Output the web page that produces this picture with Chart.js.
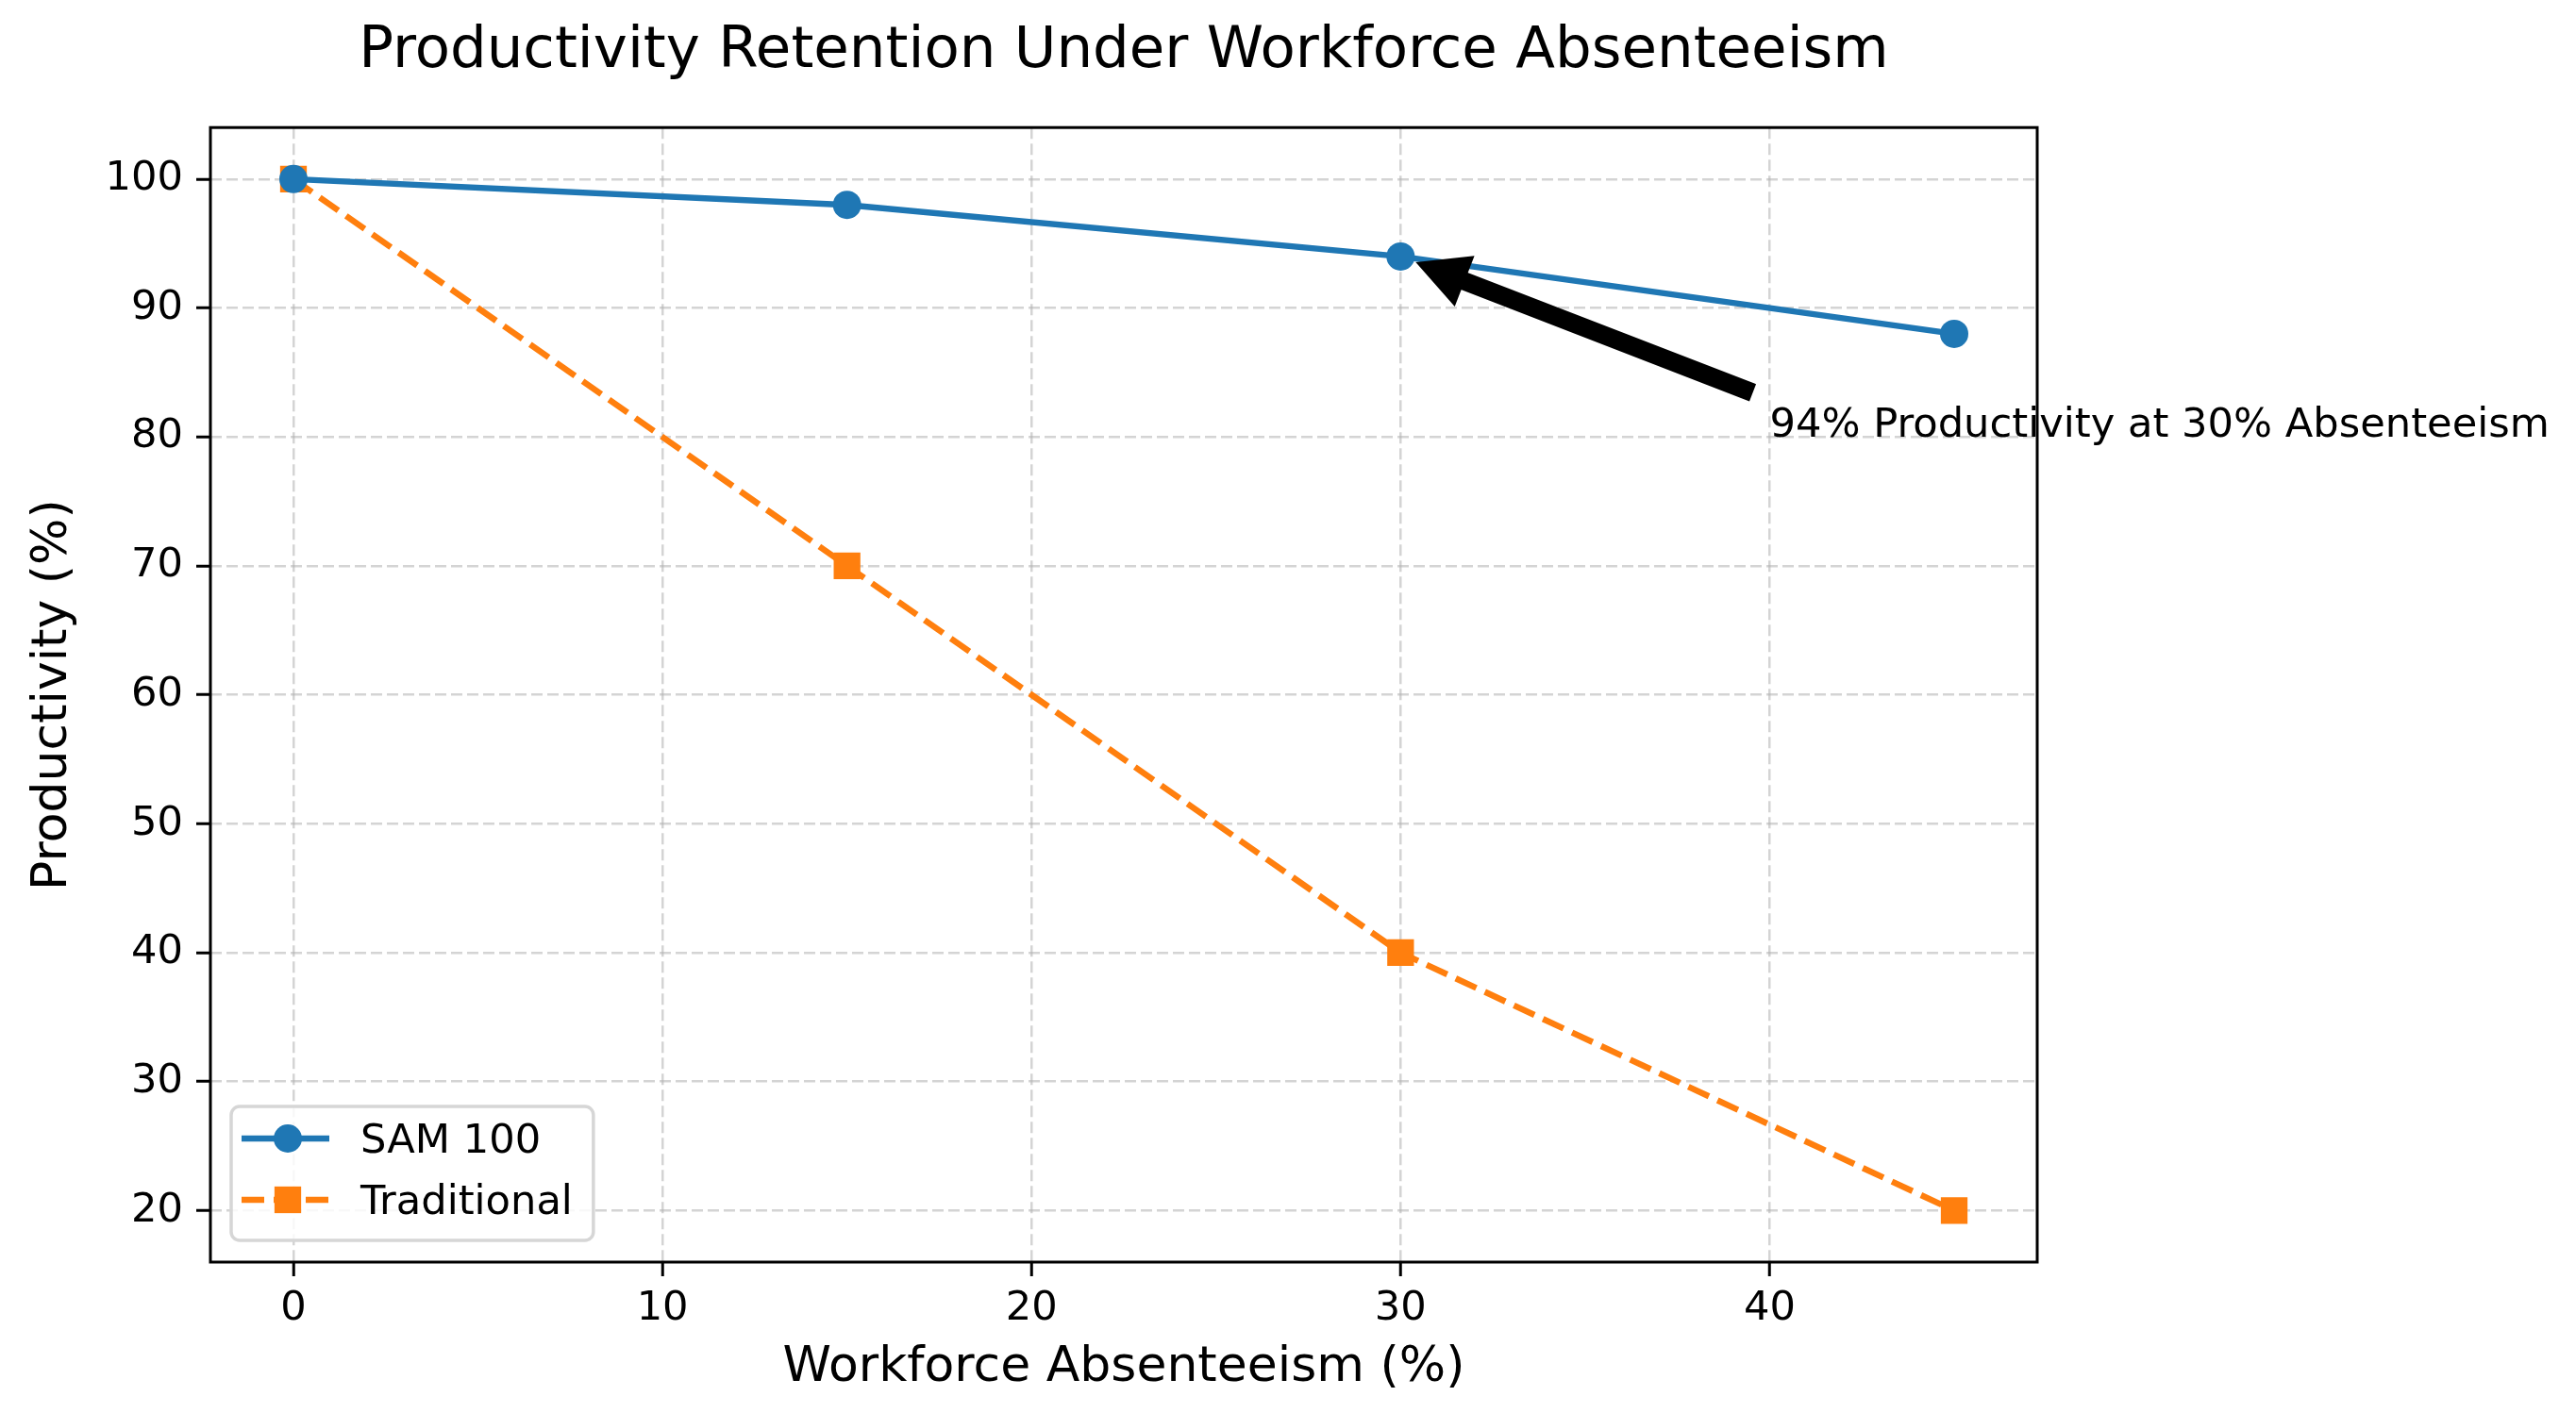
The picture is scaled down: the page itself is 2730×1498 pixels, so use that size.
<!DOCTYPE html>
<html><head><meta charset="utf-8">
<script src="https://cdn.jsdelivr.net/npm/chart.js@4.4.1/dist/chart.umd.min.js"></script>
<style>html,body{margin:0;padding:0;background:#fff}canvas{display:block}</style>
</head><body>
<canvas id="c" width="2730" height="1498"></canvas>
<script>
// ---- data ----
const chartTitle = 'Productivity Retention Under Workforce Absenteeism';
const xAxisTitle = 'Workforce Absenteeism (%)';
const yAxisTitle = 'Productivity (%)';
const absenteeism = [0, 15, 30, 45];
const sam100 = [100, 98, 94, 88];
const traditional = [100, 70, 40, 20];
const seriesNames = ['SAM 100', 'Traditional'];
const xTickValues = [0, 10, 20, 30, 40];
const yTickValues = [20, 30, 40, 50, 60, 70, 80, 90, 100];
const annotationText = '94% Productivity at 30% Absenteeism';
const annotationTarget = [30, 94];
const annotationTextPos = [40, 80];

// ---- style ----
const FONT = '"DejaVu Sans", "Liberation Sans", sans-serif';
const FS = 43.2;
const BLUE = '#1f77b4', ORANGE = '#ff7f0e';

function margins(vals) {
  const mn = Math.min(...vals), mx = Math.max(...vals), r = mx - mn;
  return [mn - 0.05 * r, mx + 0.05 * r];
}
const [xMin, xMax] = margins(absenteeism);
const [yMin, yMax] = margins(sam100.concat(traditional));

const toPts = ys => absenteeism.map((x, i) => ({x, y: ys[i]}));

const overlay = {
  id: 'overlay',
  afterDraw(chart) {
    const ctx = chart.ctx, ca = chart.chartArea;
    const xs = chart.scales.x, ys = chart.scales.y;
    ctx.save();
    // frame
    ctx.strokeStyle = '#000'; ctx.lineWidth = 3;
    ctx.strokeRect(ca.left, ca.top, ca.right - ca.left, ca.bottom - ca.top);

    // legend
    ctx.font = `${FS}px ${FONT}`;
    const ds = chart.data.datasets;
    const tw = Math.max(...ds.map(d => ctx.measureText(d.label).width));
    const L = ca.left + 22;
    const B = ca.bottom - 23;
    const w = 137 + tw + 22;
    const h = 142;
    const T = B - h;
    ctx.beginPath();
    ctx.roundRect(L, T, w, h, 9);
    ctx.fillStyle = 'rgba(255,255,255,0.85)';
    ctx.fill();
    ctx.strokeStyle = '#d6d6d6'; ctx.lineWidth = 3.5;
    ctx.stroke();
    ds.forEach((d, i) => {
      const cy = T + 34 + i * 65;
      const x0 = L + 11, x1 = L + 104, xm = L + 60;
      ctx.strokeStyle = d.borderColor; ctx.lineWidth = d.borderWidth;
      ctx.setLineDash(d.borderDash || []);
      ctx.beginPath(); ctx.moveTo(x0, cy); ctx.lineTo(x1, cy); ctx.stroke();
      ctx.setLineDash([]);
      ctx.fillStyle = d.pointBackgroundColor;
      if (d.pointStyle === 'rect') {
        const s = d.pointRadius * Math.SQRT1_2;
        ctx.fillRect(xm - s, cy - s, 2 * s, 2 * s);
      } else {
        ctx.beginPath(); ctx.arc(xm, cy, d.pointRadius, 0, Math.PI * 2); ctx.fill();
      }
      ctx.fillStyle = '#000';
      ctx.textBaseline = 'alphabetic'; ctx.textAlign = 'left';
      ctx.fillText(d.label, L + 137, cy + 15);
    });

    // annotation
    const tx = xs.getPixelForValue(annotationTextPos[0]);
    const ty = ys.getPixelForValue(annotationTextPos[1]);
    ctx.font = `${FS}px ${FONT}`;
    ctx.fillStyle = '#000';
    ctx.textBaseline = 'alphabetic'; ctx.textAlign = 'left';
    ctx.fillText(annotationText, tx, ty);
    const m = ctx.measureText(annotationText);
    const asc = m.fontBoundingBoxAscent || m.actualBoundingBoxAscent;
    const sx = tx, sy = ty - asc;
    const px = xs.getPixelForValue(annotationTarget[0]);
    const py = ys.getPixelForValue(annotationTarget[1]);
    const dx = px - sx, dy = py - sy, r = Math.hypot(dx, dy);
    const ux = dx / r, uy = dy / r, nx = -uy, ny = ux;
    const shrink = 0.05 * r;
    const ax = sx + ux * shrink, ay = sy + uy * shrink;   // tail
    const bx = px - ux * shrink, by = py - uy * shrink;   // tip
    const hl = 50, hw = 52, sw = 16;
    const hx = bx - ux * hl, hy = by - uy * hl;
    ctx.beginPath();
    ctx.moveTo(ax + nx * sw / 2, ay + ny * sw / 2);
    ctx.lineTo(hx + nx * sw / 2, hy + ny * sw / 2);
    ctx.lineTo(hx + nx * hw / 2, hy + ny * hw / 2);
    ctx.lineTo(bx, by);
    ctx.lineTo(hx - nx * hw / 2, hy - ny * hw / 2);
    ctx.lineTo(hx - nx * sw / 2, hy - ny * sw / 2);
    ctx.lineTo(ax - nx * sw / 2, ay - ny * sw / 2);
    ctx.closePath();
    ctx.fillStyle = '#000'; ctx.fill();
    ctx.strokeStyle = '#000'; ctx.lineWidth = 3.5; ctx.lineJoin = 'miter'; ctx.stroke();
    ctx.restore();
  }
};

const gridCommon = {
  color: 'rgba(176,176,176,0.55)',
  lineWidth: 2.5,
  tickColor: '#000',
  tickWidth: 3,
  tickLength: 15,
  drawTicks: true
};

new Chart(document.getElementById('c'), {
  type: 'line',
  data: {
    datasets: [
      {
        label: seriesNames[0], data: toPts(sam100),
        borderColor: BLUE, backgroundColor: BLUE, borderWidth: 6.5,
        pointStyle: 'circle', pointRadius: 15, pointBackgroundColor: BLUE,
        pointBorderWidth: 0, pointHoverRadius: 15, tension: 0
      },
      {
        label: seriesNames[1], data: toPts(traditional),
        borderColor: ORANGE, backgroundColor: ORANGE, borderWidth: 6.5,
        borderDash: [24, 10],
        pointStyle: 'rect', pointRadius: 20, pointBackgroundColor: ORANGE,
        pointBorderWidth: 0, pointHoverRadius: 20, tension: 0
      }
    ]
  },
  options: {
    responsive: false,
    animation: false,
    devicePixelRatio: 1,
    layout: { padding: { left: 0, right: 571, top: 0, bottom: 0 } },
    plugins: {
      legend: { display: false },
      tooltip: { enabled: false },
      title: {
        display: true, text: chartTitle, fullSize: false,
        color: '#000', font: { family: FONT, size: 61, weight: 'normal' },
        padding: { top: 19, bottom: 43 }
      }
    },
    scales: {
      x: {
        type: 'linear', min: xMin, max: xMax,
        afterBuildTicks: s => { s.ticks = xTickValues.map(v => ({value: v})); },
        afterFit: s => { s.height = 160; },
        grid: { ...gridCommon },
        border: { display: false, dash: [12, 5] },
        ticks: { color: '#000', font: { family: FONT, size: FS }, padding: 9, maxRotation: 0, autoSkip: false },
        title: { display: true, text: xAxisTitle, color: '#000', font: { family: FONT, size: 52 }, padding: { top: 0, bottom: 16 } }
      },
      y: {
        type: 'linear', min: yMin, max: yMax,
        afterBuildTicks: s => { s.ticks = yTickValues.map(v => ({value: v})); },
        afterFit: s => { s.width = 223; },
        grid: { ...gridCommon },
        border: { display: false, dash: [12, 5] },
        ticks: { color: '#000', font: { family: FONT, size: FS }, padding: 14, autoSkip: false },
        title: { display: true, text: yAxisTitle, color: '#000', font: { family: FONT, size: 52 }, padding: { top: 25, bottom: 0 } }
      }
    }
  },
  plugins: [overlay]
});
</script>
</body></html>
